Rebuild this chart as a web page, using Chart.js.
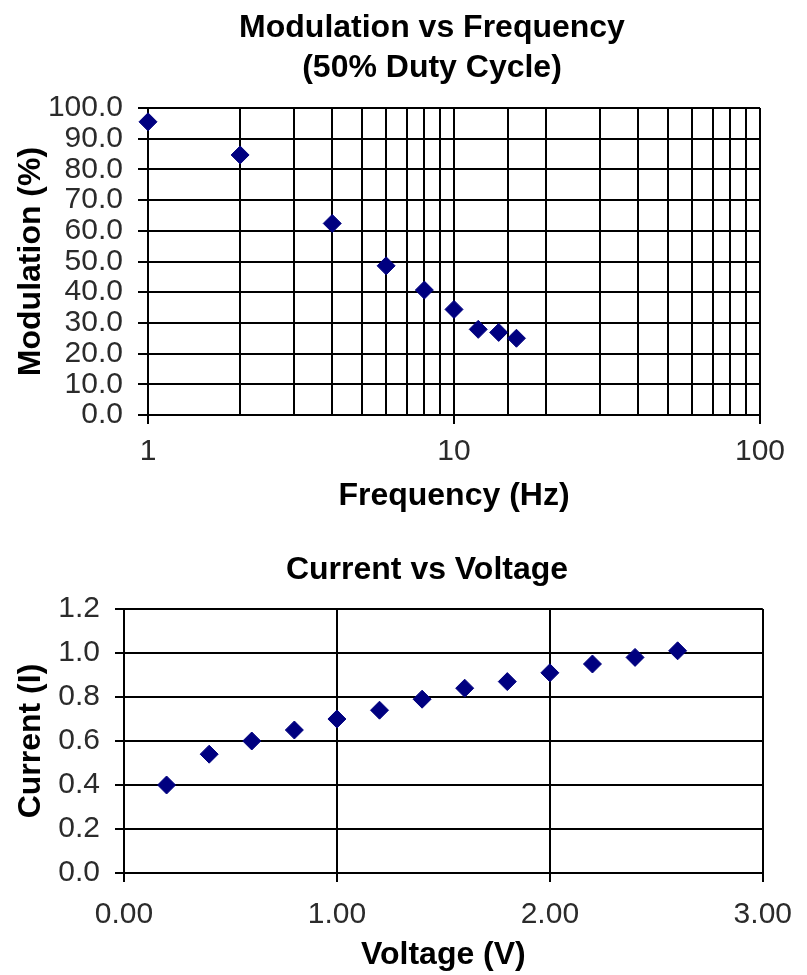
<!DOCTYPE html>
<html>
<head>
<meta charset="utf-8">
<script src="https://cdn.jsdelivr.net/npm/chart.js@4.4.1/dist/chart.umd.min.js"></script>
<style>
  body { margin: 0; background: #fff; }
  #wrap { position: relative; width: 807px; height: 975px; }
  canvas { position: absolute; left: 0; }
</style>
</head>
<body>
<div id="wrap">
  <canvas id="modChart" width="807" height="520" style="top:0"></canvas>
  <canvas id="ivChart" width="807" height="455" style="top:520px"></canvas>
</div>
<script>
// Modulation vs frequency data
var freqHz = [1, 2, 4, 6, 8, 10, 12, 14, 16];
var modulationPct = [95.5, 84.7, 62.4, 48.6, 40.7, 34.4, 27.9, 26.9, 25.0];

// Current vs voltage data
var voltage = [0.2, 0.4, 0.6, 0.8, 1.0, 1.2, 1.4, 1.6, 1.8, 2.0, 2.2, 2.4, 2.6];
var current = [0.40, 0.54, 0.60, 0.65, 0.70, 0.74, 0.79, 0.84, 0.87, 0.91, 0.95, 0.98, 1.01];

var fontFamily = "'Liberation Sans', Arial, sans-serif";
var tickColor = '#2b2b2b';
var lineColor = '#000';
var markColor = '#000080';

function toPoints(xs, ys) {
    var pts = [];
    for (var i = 0; i < xs.length; i++) {
        pts.push({ x: xs[i], y: ys[i] });
    }
    return pts;
}

function isPow10(v) {
    var l = Math.log10(v);
    return Math.abs(l - Math.round(l)) < 1e-9;
}

// the chart title sits a bit left of the plot centre, like the original
var titleShift = {
    id: 'titleShift',
    afterLayout: function (chart, args, opts) {
        if (chart.titleBlock && opts.left != null) {
            chart.titleBlock.left = opts.left;
        }
    }
};

var titleFont = { family: fontFamily, size: 32, weight: 'bold', lineHeight: 1.25 };
var tickFont = { family: fontFamily, size: 30 };

Chart.defaults.animation = false;

// Top chart
new Chart(document.getElementById('modChart'), {
    type: 'scatter',
    plugins: [titleShift],
    data: {
        datasets: [{
            data: toPoints(freqHz, modulationPct),
            pointStyle: 'rectRot',
            pointRadius: 9,
            backgroundColor: markColor,
            borderColor: markColor,
            borderWidth: 1,
            clip: false
        }]
    },
    options: {
        responsive: false,
        devicePixelRatio: 1,
        layout: { padding: { left: 0, right: 47, top: 0, bottom: 0 } },
        plugins: {
            legend: { display: false },
            tooltip: { enabled: false },
            titleShift: { left: 104 },
            title: {
                display: true,
                text: ['Modulation vs Frequency', '(50% Duty Cycle)'],
                color: '#000',
                font: titleFont,
                padding: { top: 8, bottom: 20 }
            }
        },
        scales: {
            x: {
                type: 'logarithmic',
                min: 1,
                max: 100,
                afterFit: function (s) { s.height = 105; },
                grid: {
                    color: lineColor,
                    lineWidth: 2,
                    tickLength: 9,
                    tickColor: function (c) {
                        return c.tick && isPow10(c.tick.value) ? lineColor : 'rgba(0,0,0,0)';
                    }
                },
                border: { color: lineColor, width: 2 },
                ticks: {
                    autoSkip: false,
                    maxRotation: 0,
                    padding: 10,
                    color: tickColor,
                    font: tickFont,
                    callback: function (v) { return isPow10(v) ? String(v) : ''; }
                },
                title: {
                    display: true,
                    text: 'Frequency (Hz)',
                    color: '#000',
                    font: titleFont,
                    padding: { top: 0, bottom: 4 }
                }
            },
            y: {
                min: 0,
                max: 100,
                afterFit: function (s) { s.width = 148; },
                grid: { color: lineColor, lineWidth: 2, tickLength: 10, tickColor: lineColor },
                border: { color: lineColor, width: 2 },
                ticks: {
                    autoSkip: false,
                    stepSize: 10,
                    padding: 15,
                    color: tickColor,
                    font: tickFont,
                    callback: function (v) { return v.toFixed(1); }
                },
                title: {
                    display: true,
                    text: 'Modulation (%)',
                    color: '#000',
                    font: titleFont,
                    padding: { top: 11, bottom: 0 }
                }
            }
        }
    }
});

// Bottom chart
new Chart(document.getElementById('ivChart'), {
    type: 'scatter',
    plugins: [titleShift],
    data: {
        datasets: [{
            data: toPoints(voltage, current),
            pointStyle: 'rectRot',
            pointRadius: 9,
            backgroundColor: markColor,
            borderColor: markColor,
            borderWidth: 1,
            clip: false
        }]
    },
    options: {
        responsive: false,
        devicePixelRatio: 1,
        layout: { padding: { left: 0, right: 33, top: 0, bottom: 0 } },
        plugins: {
            legend: { display: false },
            tooltip: { enabled: false },
            titleShift: { left: 80 },
            title: {
                display: true,
                text: 'Current vs Voltage',
                color: '#000',
                font: titleFont,
                padding: { top: 30, bottom: 19 }
            }
        },
        scales: {
            x: {
                type: 'linear',
                min: 0,
                max: 3,
                afterFit: function (s) { s.height = 102; },
                grid: { color: lineColor, lineWidth: 2, tickLength: 9, tickColor: lineColor },
                border: { color: lineColor, width: 2 },
                ticks: {
                    stepSize: 1,
                    maxRotation: 0,
                    padding: 15,
                    color: tickColor,
                    font: tickFont,
                    callback: function (v) { return v.toFixed(2); }
                },
                title: {
                    display: true,
                    text: 'Voltage (V)',
                    color: '#000',
                    font: titleFont,
                    padding: { top: 0, bottom: 0 }
                }
            },
            y: {
                min: 0,
                max: 1.2,
                afterFit: function (s) { s.width = 124; },
                grid: { color: lineColor, lineWidth: 2, tickLength: 9, tickColor: lineColor },
                border: { color: lineColor, width: 2 },
                ticks: {
                    autoSkip: false,
                    stepSize: 0.2,
                    padding: 15,
                    color: tickColor,
                    font: tickFont,
                    callback: function (v) { return v.toFixed(1); }
                },
                title: {
                    display: true,
                    text: 'Current (I)',
                    color: '#000',
                    font: titleFont,
                    padding: { top: 11, bottom: 0 }
                }
            }
        }
    }
});
</script>
</body>
</html>
